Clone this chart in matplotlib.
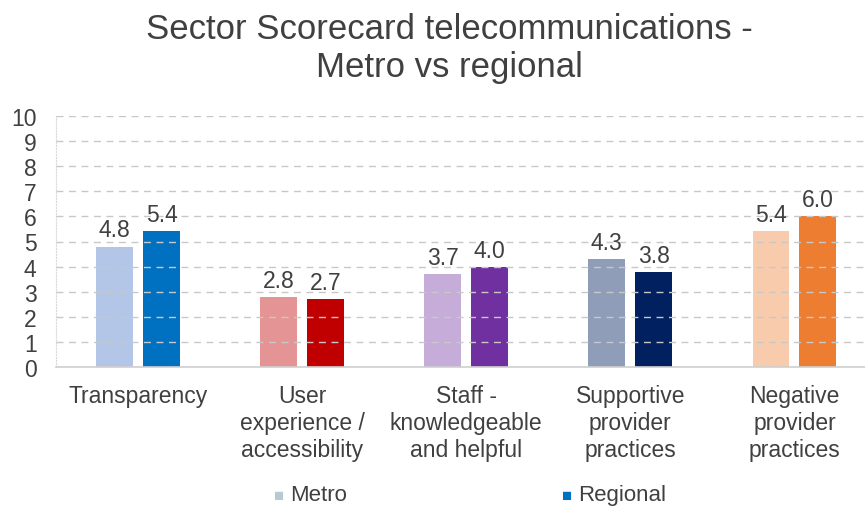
import matplotlib.pyplot as plt
import numpy as np

# === DATOS ===
categorias = ["Transparency", "User\nexperience /\naccessibility", "Staff -\nknowledgeable\nand helpful",
              "Supportive\nprovider\npractices", "Negative\nprovider\npractices"]
metro = [4.8, 2.8, 3.7, 4.3, 5.4]
regional = [5.4, 2.7, 4.0, 3.8, 6.0]

# === ESTILO ===
col_regional = ["#0070c0", "#c00000", "#7030a0", "#002060", "#ed7d31"]
col_metro = ["#4472c4", "#c00000", "#7030a0", "#002060", "#ed7d31"]
alpha_metro = [0.4, 0.42, 0.4, 0.44, 0.4]
color_texto = "#404040"
color_grid = "#c8c8c8"
ancho = 0.225
desplaz = 0.143

plt.rcParams['font.family'] = ['Liberation Sans', 'DejaVu Sans']

fig = plt.figure(figsize=(8.65, 5.1), dpi=100)
ax = fig.add_axes([56 / 865, 1 - 368 / 510, 1 - 56 / 865, (368 - 117) / 510])

x = np.arange(len(categorias))
b1 = ax.bar(x - desplaz, metro, ancho, color=col_metro, zorder=1)
for barra, a in zip(b1, alpha_metro):
    barra.set_alpha(a)
b2 = ax.bar(x + desplaz, regional, ancho, color=col_regional, zorder=1)

# etiquetas de valor
for xi, v in zip(x, metro):
    ax.text(xi - desplaz, v + 0.2, f"{v:.1f}", ha='center', va='bottom', fontsize=16.5, color=color_texto)
for xi, v in zip(x, regional):
    ax.text(xi + desplaz, v + 0.2, f"{v:.1f}", ha='center', va='bottom', fontsize=16.5, color=color_texto)

ax.set_ylim(0, 10)
ax.set_xlim(-0.5, 4.43)
ax.set_yticks(range(0, 11))
ax.tick_params(axis='y', labelsize=16.5, colors=color_texto, length=0, pad=14)
ax.set_xticks(x)
ax.set_xticklabels(categorias, fontsize=16.5, color=color_texto, linespacing=1.22)
ax.tick_params(axis='x', length=0, pad=12)
for lbl in ax.get_yticklabels():
    lbl.set_color(color_texto)

ax.yaxis.grid(True, linestyle=(0, (5, 4)), color=color_grid, linewidth=1, zorder=2)
ax.set_axisbelow(False)
for s in ['top', 'right']:
    ax.spines[s].set_visible(False)
ax.spines['left'].set_color('#d9d9d9')
ax.spines['left'].set_linestyle(':')
ax.spines['bottom'].set_color('#d0d0d0')
ax.spines['bottom'].set_linewidth(1.2)

fig.text(0.52, 0.905, "Sector Scorecard telecommunications -\nMetro vs regional", ha='center', va='center',
         fontsize=25, color=color_texto, linespacing=1.22)

# leyenda
fig.text(0.323, 0.012, "■", fontsize=12, color="#b8c9d0", ha='center', va='bottom')
fig.text(0.335, 0.008, "Metro", fontsize=16, color=color_texto, ha='left', va='bottom')
fig.text(0.656, 0.012, "■", fontsize=12, color="#0070c0", ha='center', va='bottom')
fig.text(0.668, 0.008, "Regional", fontsize=16, color=color_texto, ha='left', va='bottom')

fig.savefig("out.png", dpi=100)
